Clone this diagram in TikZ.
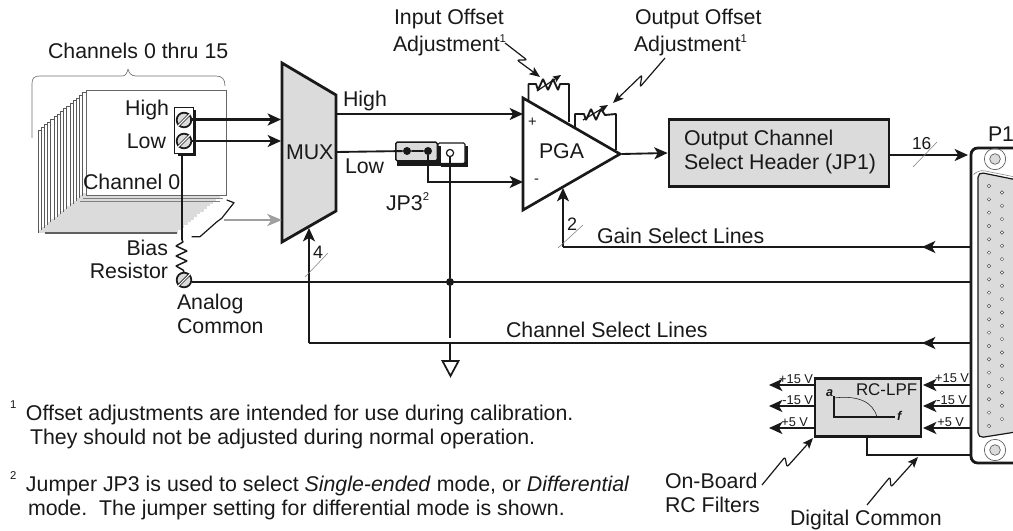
\documentclass[tikz,border=0pt]{standalone}
\usepackage{fontspec}
\setmainfont{Liberation Sans}
\usetikzlibrary{arrows.meta,calc}
\definecolor{panel}{gray}{0.86}
\definecolor{ink}{gray}{0.1}
\newcommand{\supnum}[1]{\raisebox{7pt}{\fontsize{8.5}{10}\selectfont #1}}
\tikzset{
  lbl/.style={anchor=base west,inner sep=0pt,outer sep=0pt,text=ink,font=\fontsize{16}{18}\selectfont},
  lble/.style={lbl,anchor=base east},
  volt/.style={lbl,anchor=base east,font=\fontsize{9.6}{11}\selectfont},
  notemark/.style={lbl,font=\fontsize{8.5}{9}\selectfont},
  wire/.style={draw=ink,line width=1.4pt},
  bus/.style={draw=ink,line width=1.9pt},
  arr/.style={-{Stealth[length=10pt,width=9pt,inset=2.6pt]}},
  tick/.style={draw=gray,line width=.4pt},
  bolt/.style={draw=ink,line width=.9pt,line join=round,rounded corners=1.5pt,-{Stealth[length=8pt,width=6.5pt,inset=1.8pt]}},
  screw/.style={circle,draw=ink,line width=1.3pt,fill=panel,minimum size=11pt,inner sep=0pt},
  slot/.style={draw=ink,line width=.65pt,double=white,double distance=.8pt},
  pin/.style={circle,draw=gray!60!black,line width=.35pt,fill=white,minimum size=2.6pt,inner sep=0pt},
  hole/.style={circle,draw=gray!70!black,line width=.5pt,inner sep=0pt},
  fillbox/.style={draw=ink,line width=2.1pt,fill=panel,inner sep=0pt},
  dotn/.style={circle,fill=ink,minimum size=6pt,inner sep=0pt},
}
\begin{document}
\begin{tikzpicture}[x=.75pt,y=-.75pt]
\useasboundingbox (0,0) rectangle (1013,531);
\clip (0,0) rectangle (1013,531);
\fill[white] (0,0) rectangle (1013,531);

% --- channel cards
\foreach \i in {15,...,1}{
  \pgfmathsetmacro\cx{86-3.2*\i}
  \pgfmathsetmacro\cy{90+2.67*\i}
  \fill[panel] (\cx,\cy) rectangle ++(140,103);
  \fill[white] (\cx,\cy) rectangle ++(3.2,100);
  \draw[gray!70!black,line width=.6pt] (\cx,\cy+103) -- (\cx,\cy) -- ++(140,0);
}
\draw[gray!75!black,line width=.9pt] (45,233) -- (177,233);
\draw[gray,line width=.7pt] (83,198) -- (223,198) (80,201) -- (220,201);
\draw[gray!80!black,line width=.7pt,fill=white] (86,90.5) rectangle (226,195);
\draw[gray!90!black,line width=.5pt,line join=round]
  (32,138) -- (32,84) .. controls (32,78) and (34,76) .. (40,76) -- (122,76)
  .. controls (126,76) and (127,73) .. (128,69) .. controls (129,73) and (131,76) .. (136,76)
  -- (216,76) .. controls (222,76) and (225,79) .. (225,86);

\node[lbl] (chans) at (48,59) {Channels 0 thru 15};
\node[lble] (hi) at (169,116) {High};
\node[lble] (lo) at (166,149) {Low};
\node[lbl] (ch0) at (83,190) {Channel 0};

% --- terminal block
\fill[ink] (178,151) rectangle (196,156);
\fill[ink] (191,110) rectangle (196,156);
\node[draw=ink,line width=.9pt,fill=white,minimum width=14.5pt,minimum height=34.5pt,inner sep=0pt] (block) at (184,130.5) {};
\node[screw] (sH) at (184,120) {};
\node[screw] (sL) at (184,141) {};
\draw[slot] (sH.225) -- (sH.45) (sL.225) -- (sL.45);

% --- MUX
\path[fillbox,line join=miter] (282,63) -- (336,95) -- (336,211) -- (282,242) -- cycle;
\coordinate (muxInH) at (281,119.5);
\coordinate (muxInL) at (281,141);
\coordinate (muxInG) at (282,220);
\coordinate (muxOutH) at (336,114);
\coordinate (muxOutL) at (336,152);
\coordinate (muxSel) at (309,228);
\node[lbl] (mux) at (286,160) {MUX};
\coordinate (wH) at (190,119.5);
\draw[bus,arr] (wH) -- (muxInH);
\draw[wire,arr] (sL.east) -- (muxInL);
\coordinate (gateEnd) at (224,220);
\draw[draw=gray!75,line width=2.2pt,-{Stealth[length=11pt,width=9pt,inset=3pt,fill=panel]}] (gateEnd) -- (muxInG);
\draw[ink,line width=.9pt,line join=round] (226.7,200) -- (234,202.7) -- (221.7,218.3) -- (217,221.7) -- (200,236.7) -- (191.7,236.7);

\node[lbl] (muxhi) at (343,107) {High};
\node[lbl] (muxlo) at (345,173) {Low};

% --- bias resistor and common
\node[screw] (sC) at (184,280) {};
\draw[slot] (sC.225) -- (sC.45);
\coordinate (rTop) at (182,240);
\draw[wire,line width=1.5pt] (182,155) -- (rTop);
\draw[ink,line width=1.1pt,line join=bevel] (rTop) -- (183,242) -- (176,246) -- (187,251) -- (176,256) -- (187,261) -- (176,266) -- (183,270) -- (sC.north);
\node[lble] (bias) at (168,255) {Bias};
\node[lble] (res) at (168,278) {Resistor};
\node[lbl] (an) at (177,309) {Analog};
\node[lbl] (com) at (177,333) {Common};

% --- jumper
\fill[ink] (441,146) rectangle (468,167);
\draw[fill=white,draw=ink,line width=.8pt,rounded corners=1pt] (438,143) rectangle (465,163.5);
\draw[fill=ink,draw=ink] (397,146) rectangle (440,165);
\node[draw=ink,line width=1pt,fill=panel,rounded corners=1pt,minimum width=31pt,minimum height=14pt,inner sep=0pt] (jp) at (416.5,151.5) {};
\node[dotn] (j1) at (407,151) {};
\node[dotn] (j2) at (428,151) {};
\node[circle,draw=ink,line width=.9pt,fill=white,minimum size=5.4pt,inner sep=0pt] (j3) at (450,153) {};
\draw[wire] (muxOutL) -- (j1) -- (j2);
\node[lbl] (jp3) at (386,210) {JP3\supnum{2}};

% --- PGA
\path[draw=ink,line width=2pt,fill=white,line join=miter] (523,98) -- (620,154) -- (523,210) -- cycle;
\coordinate (pgaP) at (523,114);
\coordinate (pgaM) at (523,182);
\coordinate (pgaOut) at (622,154);
\coordinate (pgaG) at (563,188);
\node[lbl] (pga) at (539,159) {PGA};
\node[lbl,font=\fontsize{11}{12}\selectfont] (plus) at (528,127) {+};
\node[lbl,font=\fontsize{11}{12}\selectfont] (minus) at (534,184) {-};
\draw[wire,arr] (muxOutH) -- (pgaP);
\coordinate (lowKnee) at (428,182);
\draw[wire,arr] (j2) -- (lowKnee) -- (pgaM);

% --- pots
\draw[wire,line join=bevel] (528.5,101) -- (528.5,84) -- (536,84) -- (538,90) -- (543,79) -- (548,90) -- (553,79) -- (558,90) -- (560,84) -- (569,84) -- (569,122);
\draw[ink,line width=.9pt,-{Stealth[length=6pt,width=5pt,inset=1pt]}] (537,91) -- (561,75);
\draw[wire,line join=bevel] (575,127) -- (575,114) -- (584,114) -- (586,120) -- (591,109) -- (596,120) -- (601,109) -- (605,115) -- (616,114) -- (616,150);
\draw[ink,line width=.9pt,-{Stealth[length=6pt,width=5pt,inset=1pt]}] (583,120) -- (608,105);
\draw[bolt] (505,43) -- (527,60) -- (517,60) -- (540,77);
\draw[bolt] (665,58) -- (640,87) -- (642,75) -- (613,103);
\node[lbl] (io1) at (394,25) {Input Offset};
\node[lbl] (io2) at (393,52) {Adjustment\supnum{1}};
\node[lbl] (oo1) at (635,25) {Output Offset};
\node[lbl] (oo2) at (634,52) {Adjustment\supnum{1}};

% --- output header
\node[fillbox,minimum width=165pt,minimum height=50pt] (hdr) at (779,153) {};
\node[lbl] (h1) at (684,146) {Output Channel};
\node[lbl] (h2) at (684,170) {Select Header (JP1)};
\draw[wire,arr] (pgaOut) -- (hdr.west);

% --- connector P1
\draw[ink,line width=2.1pt,rounded corners=5pt] (1030,148) -- (971,148) -- (971,463) -- (1030,463);
\coordinate (p1a) at (968,155);
\coordinate (p1b) at (971,247);
\coordinate (p1c) at (971,282);
\coordinate (p1d) at (971,343);
\coordinate (p1h) at (971,455);
\node[lbl] (p1) at (988,142) {P1};
\node[hole,minimum size=16pt] (fl1) at (995,159) {};
\node[hole,minimum size=8pt,fill=panel] (fl1i) at (995,159) {};
\node[hole,minimum size=16pt] (fl2) at (995,450) {};
\node[hole,minimum size=8pt,fill=panel] (fl2i) at (995,450) {};
\draw[ink,line width=.9pt,fill=panel,rounded corners=4pt] (978,172) -- (1022,181) -- (1022,431) -- (978,438) -- cycle;
\draw[gray,line width=.4pt,rounded corners=5pt] (975,173) -- (978,169.5) -- (1020,178);
\foreach \k in {0,...,18}{
  \pgfmathsetmacro\py{186+13.33*\k}
  \node[pin] (pa\k) at (989,\py) {};
}
\foreach \k in {0,...,17}{
  \pgfmathsetmacro\py{192.5+13.33*\k}
  \node[pin] (pb\k) at (1002,\py) {};
}

\draw[wire,arr] (hdr.east |- p1a) -- (p1a);
\draw[tick] (913,167) -- (937,142);
\node[lbl,font=\fontsize{13}{14}\selectfont] (n16) at (912,150) {16};

% --- gain select
\coordinate (gKnee) at (563,247);
\coordinate (gMid) at (922,247);
\draw[wire] (p1b) -- (gKnee);
\draw[wire,arr] (gKnee) -- (pgaG);
\draw[wire,arr] (p1b) -- (gMid);
\draw[tick] (558,248) -- (583,225);
\node[lbl,font=\fontsize{13.5}{15}\selectfont] (n2) at (567,230) {2};
\node[lbl] (gs) at (597,243) {Gain Select Lines};

% --- analog common
\draw[bus] (sC.east |- p1c) -- (p1c);
\node[dotn] (jct) at (450,282) {};
\coordinate (gapTop) at (450,338);
\coordinate (gapBot) at (450,343);
\coordinate (gnd) at (450,361);
\draw[wire] (j3) -- (jct);
\draw[wire] (jct) -- (gapTop);
\draw[wire] (gapBot) -- (gnd);
\draw[ink,line width=1.3pt,line join=miter] (442.5,361) -- (458.5,361) -- (450.5,376) -- cycle;

% --- channel select
\coordinate (cKnee) at (309,343);
\coordinate (cMid) at (922,343);
\draw[wire,line width=1.7pt] (p1d) -- (cKnee);
\draw[wire,line width=1.7pt,arr] (cKnee) -- (muxSel);
\draw[wire,arr] (p1d) -- (cMid);
\draw[tick] (305,277) -- (328,253);
\node[lbl,font=\fontsize{13.5}{15}\selectfont] (n4) at (313,258) {4};
\node[lbl] (cs) at (506,337) {Channel Select Lines};

% --- RC filter
\node[fillbox,minimum width=79.5pt,minimum height=44pt] (rc) at (868,407.5) {};
\node[lbl,font=\fontsize{12.7}{15}\selectfont] (rct) at (856,395) {RC-LPF};
\draw[ink,line width=1.4pt] (834,396) -- (834,417) -- (895,417);
\draw[ink,line width=.4pt] (834,398) .. controls (858,395) and (873,402) .. (877,417);
\node[lbl,font=\bfseries\itshape\fontsize{9.5}{10}\selectfont] (ax) at (826,396) {a};
\node[lbl,font=\bfseries\itshape\fontsize{9.5}{10}\selectfont] (fx) at (897,420) {f};
\foreach \n/\y in {a/385,b/406,c/428}{
  \coordinate (L\n) at (769,\y);
  \coordinate (R\n) at (971,\y);
  \coordinate (T\n) at (923,\y);
  \draw[wire,line width=1.6pt,arr] (rc.west |- L\n) -- (L\n);
  \draw[wire,line width=1.6pt,arr] (R\n) -- (T\n);
}
\node[volt] (la) at (813,383) {+15 V};
\node[volt] (lb) at (813,404) {-15 V};
\node[volt] (lc) at (808,426) {+5 V};
\node[volt] (ra) at (969,382) {+15 V};
\node[volt] (rb) at (967,404) {-15 V};
\node[volt] (rc5) at (964,426) {+5 V};
\coordinate (dKnee) at (867,455);
\draw[wire] (rc.south -| dKnee) -- (dKnee) -- (p1h);
\draw[bolt] (867,505) -- (890,477) -- (891,487) -- (918,457);
\draw[bolt] (762,485) -- (785,457) -- (787,467) -- (813,438);
\node[lbl] (ob1) at (665,488) {On-Board};
\node[lbl] (ob2) at (665,512) {RC Filters};
\node[lbl] (dc) at (790,525) {Digital Common};

% --- notes
\node[notemark] (m1) at (10,408) {1};
\node[lbl] (t1) at (26,420) {Offset adjustments are intended for use during calibration.};
\node[lbl] (t2) at (30,444) {They should not be adjusted during normal operation.};
\node[notemark] (m2) at (10,479) {2};
\node[lbl] (t3) at (26,491) {Jumper JP3 is used to select \textit{Single-ended} mode, or \textit{Differential}};
\node[lbl] (t4) at (28,515) {mode.\ \ The jumper setting for differential mode is shown.};
\end{tikzpicture}
\end{document}
